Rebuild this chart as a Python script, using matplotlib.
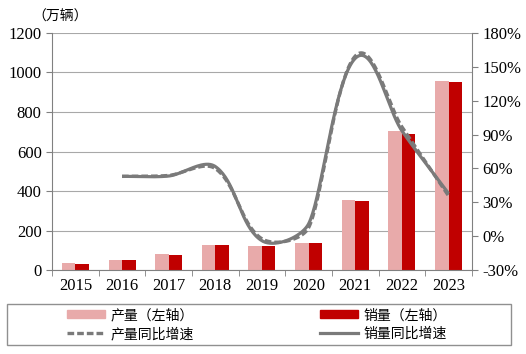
import numpy as np
import matplotlib
matplotlib.use("Agg")
import matplotlib.pyplot as plt
from matplotlib.lines import Line2D
from matplotlib.patches import Patch, Rectangle

plt.rcParams['font.family'] = ['Liberation Serif', 'Noto Sans CJK SC', 'DejaVu Sans']

years = ['2015', '2016', '2017', '2018', '2019', '2020', '2021', '2022', '2023']
production = [34.0, 51.7, 79.4, 127.0, 124.2, 136.6, 354.5, 705.8, 958.7]
sales = [33.1, 50.7, 77.7, 125.6, 120.6, 136.7, 352.1, 688.7, 949.5]
prod_growth = [53.0, 53.8, 59.9, -2.3, 7.5, 159.5, 96.9, 35.8]
sales_growth = [53.0, 53.3, 61.7, -4.0, 10.9, 157.5, 93.4, 37.9]

left_ticks = [0, 200, 400, 600, 800, 1000, 1200]
right_ticks = [-30, 0, 30, 60, 90, 120, 150, 180]

FIG_W, FIG_H = 5.26, 3.54
AX = [0.099, 0.237, 0.798, 0.670]
XLIM = (-0.5, len(years) - 0.5)
YLIM2 = (-30, 180)

def smooth(xs, ys, k=0.3, cap=30.0, n=40):
    # Bezier smoothing computed in pixel space (Excel-like smoothed line)
    sx = AX[2] * FIG_W * 100 / (XLIM[1] - XLIM[0])
    sy = AX[3] * FIG_H * 100 / (YLIM2[1] - YLIM2[0])
    P = np.column_stack([np.asarray(xs, float) * sx, np.asarray(ys, float) * sy])
    m = len(P)
    T = []
    for i in range(m):
        a = P[max(i - 1, 0)]; b = P[min(i + 1, m - 1)]
        d = b - a
        T.append(d / np.hypot(*d))
    out = [P[0]]
    t = np.linspace(0, 1, n)[1:, None]
    for i in range(m - 1):
        L = min(np.hypot(*(P[i + 1] - P[i])) * k, cap)
        c1 = P[i] + T[i] * L
        c2 = P[i + 1] - T[i + 1] * L
        seg = ((1 - t) ** 3) * P[i] + 3 * ((1 - t) ** 2) * t * c1 + 3 * (1 - t) * t ** 2 * c2 + t ** 3 * P[i + 1]
        out.extend(seg)
    out = np.array(out)
    return out[:, 0] / sx, out[:, 1] / sy

fig = plt.figure(figsize=(FIG_W, FIG_H), dpi=100)
ax = fig.add_axes(AX)
x = np.arange(len(years))
w = 0.29
c_prod = '#E8AAAA'
c_sales = '#C00000'
c_line = '#7A7A7A'
ax.bar(x - w/2, production, w, color=c_prod, zorder=2)
ax.bar(x + w/2, sales, w, color=c_sales, zorder=2)
ax.set_ylim(0, 1200)
ax.set_yticks(left_ticks)
ax.set_xlim(*XLIM)
ax.set_xticks(x)
ax.set_xticklabels(years)
ax.set_xticks(np.arange(-0.5, len(years), 1), minor=True)
ax.tick_params(axis='x', which='major', length=0, labelsize=12, pad=6)
ax.tick_params(axis='x', which='minor', length=4, color='#808080', direction='out')
ax.tick_params(axis='y', labelsize=12, length=4, color='#808080')
ax.grid(axis='y', color='#A8A8A8', linewidth=0.8, zorder=0)
for s in ['top', 'right']:
    ax.spines[s].set_visible(False)
for s in ['left', 'bottom']:
    ax.spines[s].set_color('#808080')

ax2 = ax.twinx()
ax2.set_ylim(*YLIM2)
ax2.set_yticks(right_ticks)
ax2.set_yticklabels([f'{v}%' for v in right_ticks])
ax2.tick_params(axis='y', labelsize=12, length=4, color='#808080')
for s in ['top', 'left', 'bottom']:
    ax2.spines[s].set_visible(False)
ax2.spines['right'].set_color('#808080')

dash = (0, (2.0, 0.9))
sx_, sy_ = smooth(x[1:], sales_growth)
px_, py_ = smooth(x[1:], prod_growth)
ax2.plot(sx_, sy_, color=c_line, linewidth=2.3, zorder=3, solid_capstyle='butt')
ax2.plot(px_, py_, color=c_line, linewidth=2.4, linestyle=dash, zorder=4)

fig.text(0.062, 0.953, '（万辆）', fontsize=10, ha='left', va='center',
         family=['Noto Sans CJK SC', 'DejaVu Sans'])

# legend frame
fig.patches.append(Rectangle((0.0133, 0.0254), 0.958, 0.116, transform=fig.transFigure,
                             fill=False, edgecolor='#909090', linewidth=1.0))
prop = {'family': ['Noto Sans CJK SC', 'DejaVu Sans'], 'size': 10}
h1 = [Patch(color=c_prod), Line2D([], [], color=c_line, linewidth=2.4, linestyle=dash)]
l1 = ['产量（左轴）', '产量同比增速']
h2 = [Patch(color=c_sales), Line2D([], [], color=c_line, linewidth=2.3)]
l2 = ['销量（左轴）', '销量同比增速']
for hh, ll, xa in ((h1, l1, 0.127), (h2, l2, 0.608)):
    lg = fig.legend(hh, ll, loc='center left', bbox_to_anchor=(xa, 0.083), frameon=False,
                    prop=prop, handlelength=2.75, handleheight=0.55, labelspacing=0.35,
                    borderpad=0, borderaxespad=0, handletextpad=0.4)

fig.savefig('out.png', dpi=100)
